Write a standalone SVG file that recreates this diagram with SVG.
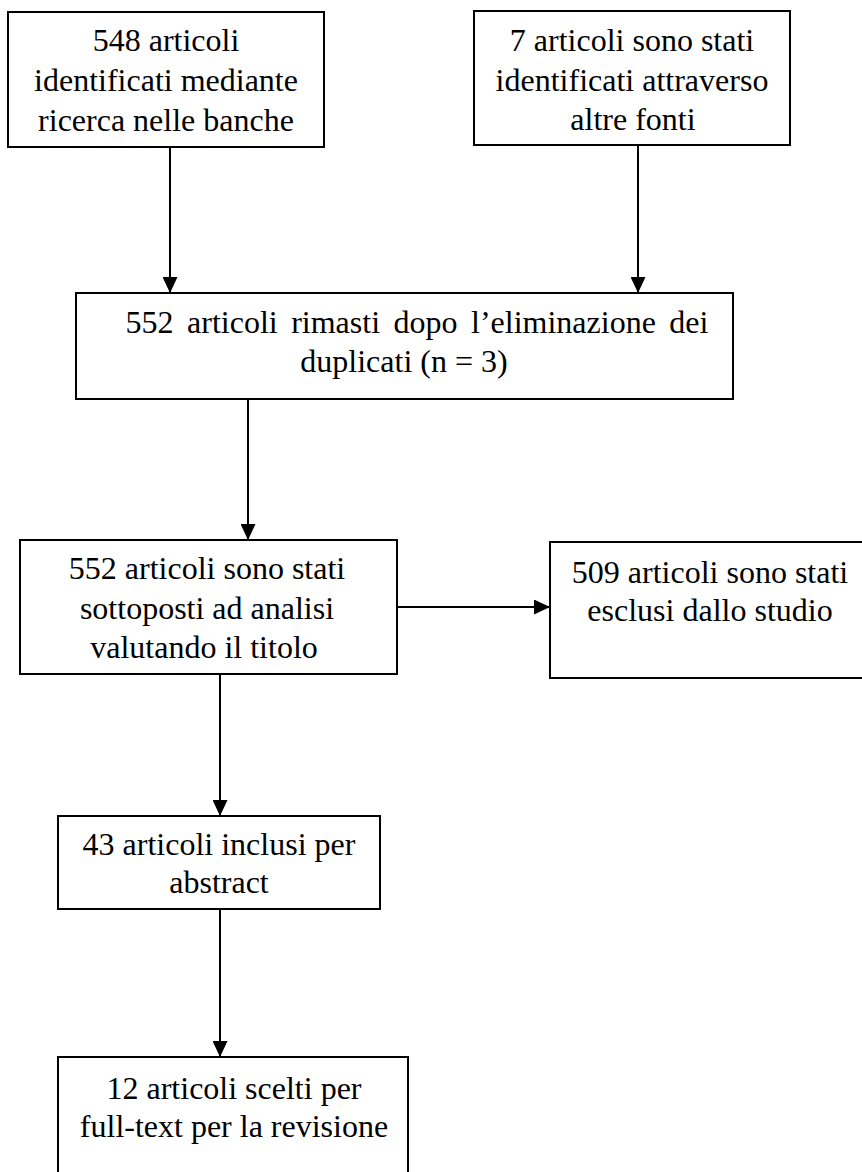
<svg xmlns="http://www.w3.org/2000/svg" width="862" height="1172" viewBox="0 0 862 1172">
<style>
rect.box{fill:#fff;stroke:#000;stroke-width:2}
text{font-family:"Liberation Serif","Times New Roman",serif;font-size:32px;fill:#000;text-anchor:middle}
.conn path{stroke:#000;stroke-width:2;fill:none}
</style>
<defs>
<marker id="ah" viewBox="0 0 16 15" refX="16" refY="7.5" markerWidth="16" markerHeight="15" markerUnits="userSpaceOnUse" orient="auto">
<path d="M0,0 L16,7.5 L0,15 z" fill="#000"/>
</marker>
</defs>
<rect width="862" height="1172" fill="#fff"/>
<g class="conn">
<path d="M170,148 L170,293" marker-end="url(#ah)"/>
<path d="M638,146 L638,293" marker-end="url(#ah)"/>
<path d="M248,400 L248,540" marker-end="url(#ah)"/>
<path d="M397,607 L550,607" marker-end="url(#ah)"/>
<path d="M220,675 L220,816" marker-end="url(#ah)"/>
<path d="M220,910 L220,1057" marker-end="url(#ah)"/>
</g>
<g id="n1">
<rect class="box" x="8" y="12" width="316" height="135"/>
<text x="166" y="51">548 articoli</text>
<text x="166" y="91">identificati mediante</text>
<text x="166" y="131">ricerca nelle banche</text>
</g>
<g id="n2">
<rect class="box" x="474" y="11" width="316" height="134"/>
<text x="632" y="51">7 articoli sono stati</text>
<text x="632" y="91">identificati attraverso</text>
<text x="633" y="130">altre fonti</text>
</g>
<g id="n3">
<rect class="box" x="76" y="293" width="657" height="106"/>
<text x="417" y="333" word-spacing="5.5">552 articoli rimasti dopo l’eliminazione dei</text>
<text x="404" y="372">duplicati (n = 3)</text>
</g>
<g id="n4">
<rect class="box" x="20" y="540" width="377" height="134"/>
<text x="207" y="579">552 articoli sono stati</text>
<text x="207" y="619">sottoposti ad analisi</text>
<text x="204" y="658">valutando il titolo</text>
</g>
<g id="n5">
<rect class="box" x="550" y="542" width="320" height="136"/>
<text x="710" y="583">509 articoli sono stati</text>
<text x="710" y="621">esclusi dallo studio</text>
</g>
<g id="n6">
<rect class="box" x="58" y="816" width="322" height="93"/>
<text x="219" y="855">43 articoli inclusi per</text>
<text x="219" y="893">abstract</text>
</g>
<g id="n7">
<rect class="box" x="58" y="1057" width="350" height="130"/>
<text x="234" y="1099">12 articoli scelti per</text>
<text x="234" y="1137">full-text per la revisione</text>
</g>
</svg>
